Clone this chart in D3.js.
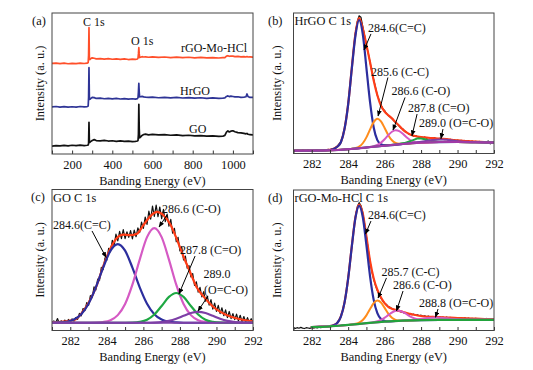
<!DOCTYPE html>
<html><head><meta charset="utf-8">
<script src="https://cdn.jsdelivr.net/npm/d3@7/dist/d3.min.js"></script>
<style>
html,body{margin:0;padding:0;background:#fff;}
svg text{font-family:"Liberation Serif","Times New Roman",serif;font-weight:normal;}
</style></head>
<body><div id="chart"></div>
<script>
// ================= DATA =================
// (a) survey spectra
const surveyE = [100,120,140,160,180,200,220,240,260,275,280,282,284,286,288,292,300,310,320,340,360,380,400,420,440,460,480,500,515,525,528,530,532,534,536,540,548,556,565,580,600,630,660,690,720,750,780,810,840,870,900,930,950,960,968,975,982,990,1000,1010,1025,1040,1055,1065,1070,1075,1085,1100];
const surveyGO = [5.6,6.0,5.7,6.1,5.8,6.2,5.9,6.3,6.0,6.2, 6.4,7.5,22.5,8.6,8.3,8.8,9.6,10.2,9.5,9.3, 9.6,9.2,9.4,9.0,9.3,8.9,9.1,8.8,9.0,9.2, 9.6,14,35.2,18,11.5,12.0,13.2,13.8,14.1,13.6, 13.9,13.5,13.7,13.3,13.5,13.1,13.3,12.9,13.1,12.7, 12.9,12.5,12.6,13.2,15.5,16.4,15.6,16.2,16.5,15.8, 15.2,15.0,14.6,14.3,14.6,14.0,13.8,13.5];
const surveyHrGO = [33.4,33.7,33.3,33.6,33.2,33.5,33.3,33.7,33.4,33.6, 34.0,40,61.2,39.5,38.8,39.2,40.2,40.0,39.4,39.6, 39.2,39.5,39.1,39.4,39.0,39.3,38.9,39.2,38.9,39.3, 40,44,50.1,44,40.5,40.6,40.9,40.5,40.3,40.1, 40.3,39.9,40.2,39.8,40.1,39.7,40.0,39.6,39.9,39.5, 39.8,39.5,39.6,39.8,40.8,41.2,40.7,41.0,40.8,40.5, 40.6,40.2,40.4,40.6,42.6,40.8,40.1,40.2];
const surveyRGO = [64.2,64.5,64.1,64.4,64.0,64.3,64.1,64.5,64.2,64.4, 64.8,70,89.6,67.4,67.0,67.5,68.2,67.9,67.5,67.7, 67.3,67.6,67.2,67.5,67.1,67.4,67.0,67.3,67.1,67.4, 68,71,75.4,71,68.4,68.6,69.0,68.8,68.9,68.6, 68.9,68.5,68.8,68.4,68.7,68.3,68.6,68.2,68.5,68.2, 68.4,68.1,68.3,68.4,69.4,69.7,69.3,69.5,69.4,69.1, 69.2,68.9,69.0,68.8,69.1,68.8,68.9,68.7];
const surveyNames = ["rGO-Mo-HCl","HrGO","GO"];
const surveyPeakNames = ["C 1s","O 1s"];
const surveyTicks = [100,200,300,400,500,600,700,800,900,1000,1100];
const surveyTickLabels = [200,400,600,800,1000];

// C 1s panels
const c1sTicks = [281,282,283,284,285,286,287,288,289,290,291,292];
const c1sTickLabels = [282,284,286,288,290,292];
const rawStart = 281, rawStep = 0.1;

// (b) HrGO C 1s  — [binding energy, intensity]
const hrgoRaw = [2.2,1.8,2.3,2.0,1.7,2.4,2.1,1.9,2.5,2.0,
 1.8,2.3,2.1,2.6,2.0,2.2,2.7,2.3,2.5,2.9,
 2.6,3.2,3.4,4.2,5.1,6.8,8.4,12.5,17.8,26,
 35.5,48,61.5,75,86,94,98,97,90.5,84,
 77,71.5,65,58,52.5,47,41.5,38,34.5,32,
 30.5,28.5,27,26,25,23.5,22,21,19.5,18,
 17.5,16,15.2,14,13.5,13,12.2,12.8,12,11.5,
 12.0,11.2,11.8,10.9,11.4,11.0,10.6,11.3,10.8,10.4,
 10.9,10.2,10.7,9.9,10.4,9.6,10.1,9.5,9.9,9.2,
 9.6,9.0,9.4,8.7,9.3,8.6,9.0,8.4,8.9,8.2,
 8.7,8.1,8.6,7.9,8.5,7.8,8.4,8.8,6.9,7.6,
 7.2];
const hrgoEnv = [[281,2.0],[282,2.1],[283,2.6],[283.2,3.3],[283.4,4.9],[283.6,8.1],[283.8,17.6],[284,35.3],[284.2,61.0],[284.4,85.5],[284.6,96.4],[284.8,89.0],[285,77.5],[285.2,65.0],[285.4,52.0],[285.6,41.5],[285.8,34.0],[286,29.8],[286.2,27.2],[286.4,25.0],[286.6,22.2],[286.8,19.8],[287,17.0],[287.2,15.0],[287.4,13.6],[287.6,12.6],[287.8,12.1],[288,11.7],[288.4,11.2],[288.8,10.8],[289.2,10.4],[289.6,9.9],[290,9.3],[290.5,8.8],[291,8.4],[291.5,8.1],[292,7.9]];
const hrgoCeC = [[281,2.0],[282,2.1],[283,2.5],[283.2,3.2],[283.4,4.8],[283.6,8.0],[283.8,17.5],[284,35],[284.2,60.5],[284.4,84],[284.6,95],[284.8,85],[285,61],[285.2,36.5],[285.4,18.5],[285.6,9.5],[285.8,6.6],[286,5.9],[286.4,6.0],[287,6.8],[288,7.7],[289,8.1],[290,8.2],[291,8.0],[292,7.8]];
const hrgoCC = [[281,2.0],[283,2.3],[284,3.0],[284.2,3.4],[284.4,3.85],[284.6,4.9],[284.8,7.3],[285,11.5],[285.2,17.2],[285.4,22.35],[285.6,24.7],[285.8,22.85],[286,18.2],[286.2,13.05],[286.4,9.4],[286.6,7.5],[286.8,6.9],[287,6.9],[287.5,7.3],[288,7.7],[289,8.1],[290,8.2],[291,8.0],[292,7.8]];
const hrgoCO = [[281,2.0],[283,2.3],[284,3.0],[285,4.3],[285.2,4.7],[285.4,5.25],[285.6,6.15],[285.8,7.75],[286,10.1],[286.2,13.05],[286.4,15.5],[286.6,16.6],[286.8,15.95],[287,14.0],[287.2,11.5],[287.4,9.6],[287.6,8.46],[287.8,7.95],[288,7.8],[289,8.1],[290,8.2],[291,8.0],[292,7.8]];
const hrgoCdO = [[281,2.0],[283,2.3],[284,3.0],[285,4.3],[286,5.6],[286.6,6.37],[286.8,6.75],[287,7.26],[287.2,7.92],[287.4,8.78],[287.6,9.72],[287.8,10.7],[288,10.62],[288.2,10.12],[288.4,9.48],[288.6,8.9],[288.8,8.51],[289,8.3],[289.2,8.19],[290,8.2],[291,8.0],[292,7.8]];
const hrgoOCO = [[281,2.0],[283,2.3],[284,3.0],[285,4.3],[286,5.6],[287,6.83],[287.4,7.32],[287.8,7.95],[288.2,8.75],[288.6,9.58],[289,10.0],[289.4,9.75],[289.8,9.13],[290.2,8.6],[290.6,8.27],[291,8.03],[292,7.8]];
const hrgoBg = [[281,2.0],[282,2.1],[283,2.3],[283.6,2.6],[284,3.0],[284.5,3.6],[285,4.3],[285.5,5.0],[286,5.6],[286.5,6.2],[287,6.8],[287.5,7.3],[288,7.7],[289,8.1],[290,8.2],[291,8.0],[292,7.8]];
const hrgoLabels = ["284.6(C=C)","285.6 (C-C)","286.6 (C-O)","287.8 (C=O)","289.0 (O=C-O)"];

// (c) GO C 1s
const goRaw = [5.2,6.8,5.5,8.5,5.0,6.9,5.6,7.4,5.9,7.8,
 6.1,8.2,6.6,9.2,7.9,12.1,10.4,15.6,14.1,19.8,
 17.8,24.7,23.4,30.9,28.8,36.5,35.6,44.8,43.2,51.6,
 49.8,58.3,55.8,64.0,60.2,68.3,63.6,70.3,65.1,71.6,
 65.2,70.0,66.0,70.8,64.9,71.2,66.5,72.8,69.5,76.8,
 72.4,80.5,75.3,84.6,79.0,88.2,81.0,89.0,80.8,87.6,
 79.4,85.9,77.2,82.6,74.0,78.8,69.1,72.5,63.0,66.1,
 56.5,59.3,50.0,52.8,44.2,46.0,38.1,40.4,32.0,34.5,
 27.2,30.6,23.9,27.5,20.8,24.3,18.0,21.9,15.2,19.4,
 13.6,17.8,12.0,16.1,10.5,14.6,9.2,13.5,8.4,12.0,
 7.7,11.6,6.9,10.8,6.2,9.9,5.8,9.1,5.6,8.4,
 5.9];
const goEnv = [[281,6.0],[281.5,6.2],[282,7.0],[282.3,8.0],[282.6,11.9],[283.0,19.6],[283.45,32.0],[283.8,45.5],[284.2,58.3],[284.55,65.6],[284.9,68.0],[285.3,67.6],[285.65,68.6],[286.0,74.7],[286.4,81.3],[286.75,84.1],[287.1,81.7],[287.5,74.7],[287.85,64.1],[288.2,52.3],[288.55,41.7],[288.9,31.1],[289.3,24.0],[289.8,17.0],[290.55,11.0],[291.3,8.0],[292,6.4]];
const goCeC = [[281,5.5],[281.4,5.7],[281.8,6.2],[282.2,7.8],[282.6,11.6],[283.0,19.0],[283.4,30.6],[283.8,44.6],[284.2,56.6],[284.6,61.3],[285.0,56.6],[285.4,44.6],[285.8,30.6],[286.2,19.0],[286.6,11.6],[287.0,7.8],[287.4,6.2],[287.8,5.7],[288.2,5.5],[292,5.5]];
const goCO = [[281,5.5],[283,5.5],[283.4,5.6],[283.8,6.0],[284.2,7.3],[284.6,10.9],[285,18.8],[285.4,32.5],[285.8,50.3],[286.2,66.2],[286.6,72.6],[287,66.2],[287.4,50.3],[287.8,32.5],[288.2,18.8],[288.6,10.9],[289,7.3],[289.4,6.0],[289.8,5.6],[290.2,5.5],[292,5.5]];
const goCdO = [[281,5.5],[285,5.5],[285.4,5.6],[285.8,6.1],[286.2,7.6],[286.6,11.3],[287,17.4],[287.4,23.8],[287.8,26.6],[288.2,23.8],[288.6,17.4],[289,11.3],[289.4,7.6],[289.8,6.1],[290.2,5.6],[290.6,5.5],[292,5.5]];
const goOCO = [[281,5.5],[286.2,5.5],[286.6,5.64],[287,6.0],[287.4,6.8],[287.8,8.3],[288.2,10.4],[288.6,12.4],[289,13.2],[289.4,12.4],[289.8,10.4],[290.2,8.3],[290.6,6.8],[291,6.0],[291.4,5.64],[291.8,5.5],[292,5.5]];
const goBg = [[281,5.5],[292,5.5]];
const goLabels = ["284.6(C=C)","286.6 (C-O)","287.8 (C=O)","289.0","(O=C-O)"];

// (d) rGO-Mo-HCl C 1s
const rgoRaw = [1.9,1.5,2.0,1.6,2.2,1.7,1.4,2.0,1.8,1.5,
 2.1,1.7,2.3,1.9,2.4,2.0,2.6,2.2,2.5,2.8,
 2.9,3.3,3.6,4.4,5.4,7.2,10.2,14.5,20,28,
 37.5,48.5,60,71.5,81,88,91,89,84,76,
 67,58,49,42,36.5,32,28.5,25.5,23,21,
 19.5,18.5,17,16.5,15.5,15.0,14.6,14.0,13.8,13.2,
 12.9,12.4,12.6,11.8,12.0,11.3,11.6,10.8,11.2,10.5,
 10.9,10.1,10.5,9.8,10.3,9.6,10.0,9.4,10.2,9.5,
 9.9,9.2,9.6,8.9,9.5,8.8,9.3,8.7,9.2,8.6,
 9.1,8.5,8.9,8.4,9.0,8.3,8.8,8.2,8.7,8.1,
 8.6,8.0,8.5,7.9,8.4,7.8,8.6,7.7,8.3,7.9,
 8.0];
const rgoEnv = [[282,2.4],[283,3.1],[283.2,3.8],[283.4,5.4],[283.6,10.0],[283.8,20.0],[284,37.3],[284.2,60.2],[284.4,80.8],[284.6,89.6],[284.8,83.3],[285,67.0],[285.2,49.5],[285.4,37.0],[285.6,29.0],[285.8,23.5],[286,19.5],[286.2,16.8],[286.4,15.5],[286.6,14.7],[286.8,14.0],[287,13.2],[287.2,12.5],[287.4,11.8],[287.6,11.2],[287.8,10.7],[288,10.3],[288.4,9.8],[288.8,9.6],[289.2,9.4],[289.6,9.1],[290,8.9],[290.5,8.6],[291,8.4],[291.5,8.2],[292,8.1]];
const rgoCeC = [[282,2.4],[283,3.05],[283.2,3.7],[283.4,5.35],[283.6,9.9],[283.8,19.85],[284,37.1],[284.2,59.85],[284.4,80.3],[284.6,88.7],[284.8,80.75],[285,60.8],[285.2,38.55],[285.4,21.8],[285.6,12.35],[285.8,8.15],[286,6.8],[286.2,6.45],[286.6,6.75],[287,7.0],[288,7.45],[289,7.6],[292,7.6]];
const rgoCC = [[282,2.4],[284,4.0],[284.4,4.76],[284.6,5.6],[284.8,7.45],[285,10.8],[285.2,15.25],[285.4,19.45],[285.6,21.35],[285.8,19.9],[286,16.1],[286.2,12.05],[286.4,9.1],[286.6,7.6],[286.8,7.06],[287,7.0],[288,7.45],[289,7.6],[292,7.6]];
const rgoCO = [[282,2.4],[284,4.0],[285,5.2],[285.3,5.75],[285.5,6.22],[285.7,7.0],[285.9,8.3],[286.1,10.0],[286.3,11.95],[286.5,13.55],[286.7,14.25],[286.9,13.75],[287.1,12.5],[287.3,10.8],[287.5,9.35],[287.7,8.35],[287.9,7.82],[288.1,7.62],[288.3,7.5],[289,7.6],[292,7.6]];
const rgoOCO = [[282,2.4],[284,4.0],[286,6.3],[287,7.0],[287.2,7.22],[287.6,7.67],[288,8.28],[288.4,8.88],[288.8,9.17],[289.2,8.96],[289.6,8.43],[290,7.97],[290.4,7.72],[291,7.6],[292,7.6]];
const rgoBg = [[282,2.4],[283,3.0],[283.5,3.4],[284,4.0],[284.5,4.6],[285,5.2],[285.5,5.8],[286,6.3],[286.5,6.7],[287,7.0],[287.5,7.25],[288,7.45],[289,7.6],[290,7.6],[291,7.6],[292,7.6]];
const rgoLabels = ["284.6(C=C)","285.7 (C-C)","286.6 (C-O)","288.8 (O=C-O)"];

const panelTitles = ["HrGO C 1s","GO C 1s","rGO-Mo-HCl C 1s"];
const xTitle = "Banding Energy (eV)";
const yTitle = "Intensity (a. u.)";

// ================= DRAWING =================
const FONT = '"Liberation Serif","Times New Roman",serif';
const FS = 12.4, FSA = 12;
const COL = {raw:"#111", env:"#ff3d17", ceC:"#2c2e9e", cc:"#ff8c1c", co:"#d55ac4",
             cdo:"#1ea843", oco:"#7d3fa6", bgB:"#a03aa6", bgD:"#22a33c",
             sRed:"#ff4f2a", sBlue:"#2e3496", sBlack:"#111"};

const svg = d3.select("#chart").append("svg").attr("width",533).attr("height",370).style("display","block");
const defs = svg.append("defs");
defs.append("marker").attr("id","arrow").attr("viewBox","0 0 10 8").attr("refX",9).attr("refY",4)
  .attr("markerWidth",6).attr("markerHeight",5).attr("orient","auto").attr("markerUnits","userSpaceOnUse")
  .append("path").attr("d","M0,0L10,4L0,8Z").attr("fill","#000");

function makePanel(o){
  const x = d3.scaleLinear().domain(o.xDomain).range([o.left,o.right]);
  const y = d3.scaleLinear().domain([0,100]).range([o.bottom,o.top]);
  const g = svg.append("g");
  defs.append("clipPath").attr("id","clip-"+o.id).append("rect")
     .attr("x",o.left).attr("y",o.top).attr("width",o.right-o.left).attr("height",o.bottom-o.top);
  const plot = g.append("g").attr("clip-path",`url(#clip-${o.id})`);
  const axis = d3.axisBottom(x).tickValues(o.ticks).tickSizeInner(-3.5).tickSizeOuter(0).tickPadding(6)
     .tickFormat(d => o.labels.includes(d) ? String(d) : "");
  const ag = g.append("g").attr("transform",`translate(0,${o.bottom})`).call(axis);
  ag.select(".domain").remove();
  ag.selectAll("line").attr("stroke","#333");
  ag.selectAll("text").attr("font-family",FONT).attr("font-size",FS).attr("fill","#111");
  g.append("rect").attr("x",o.left).attr("y",o.top).attr("width",o.right-o.left).attr("height",o.bottom-o.top)
     .attr("fill","none").attr("stroke","#444").attr("stroke-width",1);
  g.append("text").attr("x",(o.left+o.right)/2).attr("y",o.bottom+30.5).attr("text-anchor","middle")
     .attr("font-size",FS).attr("fill","#111").text(xTitle);
  g.append("text").attr("transform",`translate(${o.yTitleX},${(o.top+o.bottom)/2}) rotate(-90)`)
     .attr("text-anchor","middle").attr("font-size",FS).attr("fill","#111").text(yTitle);
  g.append("text").attr("x",o.tagX).attr("y",o.top+11.5).attr("font-size",FS).attr("fill","#111").text(o.tag);
  if (o.title) g.append("text").attr("x",o.left+1).attr("y",o.top+12).attr("font-size",FS).attr("fill","#111").text(o.title);
  return {x,y,g,plot};
}

function drawLine(P, data, color, width, curve){
  const line = d3.line().x(d=>P.x(d[0])).y(d=>P.y(d[1])).curve(curve || d3.curveMonotoneX);
  P.plot.append("path").datum(data).attr("d",line).attr("fill","none")
    .attr("stroke",color).attr("stroke-width",width).attr("stroke-linejoin","round").attr("stroke-linecap","round");
}
function rawPairs(arr){ return arr.map((v,i)=>[rawStart + i*rawStep, v]); }
function annotate(P, label, tx, ty, a){
  P.g.append("text").attr("x",P.x(tx)).attr("y",P.y(ty)).attr("font-size",FSA).attr("fill","#111").text(label);
  if (a) P.g.append("line").attr("x1",P.x(a[0])).attr("y1",P.y(a[1])).attr("x2",P.x(a[2])).attr("y2",P.y(a[3]))
     .attr("stroke","#000").attr("stroke-width",1).attr("marker-end","url(#arrow)");
}

// ---- (a) survey ----
const A = makePanel({id:"a", left:52, right:253, top:13, bottom:154, xDomain:[100,1100],
  ticks:surveyTicks, labels:surveyTickLabels, yTitleX:43.5, tagX:32, tag:"(a)"});
[[surveyGO,COL.sBlack],[surveyHrGO,COL.sBlue],[surveyRGO,COL.sRed]].forEach(([arr,c])=>{
  drawLine(A, surveyE.map((e,i)=>[e,arr[i]]), c, 1.7, d3.curveLinear);
});
annotate(A, surveyPeakNames[0], 254, 90.8);
annotate(A, surveyPeakNames[1], 493, 77.3);
annotate(A, surveyNames[0], 742, 72.6);
annotate(A, surveyNames[1], 737, 41.6);
annotate(A, surveyNames[2], 782, 14.7);

// ---- (b) HrGO C 1s ----
const B = makePanel({id:"b", left:293.5, right:494, top:13, bottom:153.5, xDomain:[281,292],
  ticks:c1sTicks, labels:c1sTickLabels, yTitleX:280.5, tagX:268, tag:"(b)", title:panelTitles[0]});
drawLine(B, rawPairs(hrgoRaw), COL.raw, 1.2, d3.curveLinear);
drawLine(B, hrgoEnv, COL.env, 2.2);
drawLine(B, hrgoCeC, COL.ceC, 2.2);
drawLine(B, hrgoCC, COL.cc, 2);
drawLine(B, hrgoCO, COL.co, 2);
drawLine(B, hrgoCdO, COL.cdo, 2);
drawLine(B, hrgoOCO, COL.oco, 2);
drawLine(B, hrgoBg, COL.bgB, 2);
annotate(B, hrgoLabels[0], 285.09, 86.5, [285.25,85.1,284.87,73.7]);
annotate(B, hrgoLabels[1], 285.25, 55.5, [286.18,54.1,285.64,26.7]);
annotate(B, hrgoLabels[2], 286.38, 41.3, [287.12,39.9,286.46,16.7]);
annotate(B, hrgoLabels[3], 287.28, 29.5, [287.78,28.1,287.5,12.6]);
annotate(B, hrgoLabels[4], 287.89, 18.9, [289.2,17.4,289.09,10.6]);

// ---- (c) GO C 1s ----
const C = makePanel({id:"c", left:52, right:253, top:189.5, bottom:330.5, xDomain:[281,292],
  ticks:c1sTicks, labels:c1sTickLabels, yTitleX:43.5, tagX:31, tag:"(c)", title:panelTitles[1]});
drawLine(C, rawPairs(goRaw), COL.raw, 1.2, d3.curveLinear);
drawLine(C, goEnv, COL.env, 2.2);
drawLine(C, goCeC, COL.ceC, 2.2);
drawLine(C, goCO, COL.co, 2.2);
drawLine(C, goCdO, COL.cdo, 2.2);
drawLine(C, goOCO, COL.oco, 2.2);
drawLine(C, goBg, COL.oco, 2);
annotate(C, goLabels[0], 281.05, 72.0, [283.19,70.6,283.96,51.8]);
annotate(C, goLabels[1], 287.02, 83.3, [287.29,81.9,286.86,73.4]);
annotate(C, goLabels[2], 288.0, 54.3, [288.83,52.8,287.95,26.0]);
annotate(C, goLabels[3], 289.29, 37.2);
annotate(C, goLabels[4], 289.32, 25.9, [289.54,24.5,288.99,13.8]);

// ---- (d) rGO-Mo-HCl C 1s ----
const D = makePanel({id:"d", left:293.5, right:494, top:190, bottom:330.5, xDomain:[281,292],
  ticks:c1sTicks, labels:c1sTickLabels, yTitleX:280.5, tagX:268, tag:"(d)", title:panelTitles[2]});
drawLine(D, rawPairs(rgoRaw), COL.raw, 1.2, d3.curveLinear);
drawLine(D, rgoEnv, COL.env, 2.2);
drawLine(D, rgoCeC, COL.ceC, 2.2);
drawLine(D, rgoCC, COL.cc, 2);
drawLine(D, rgoCO, COL.co, 2);
drawLine(D, rgoOCO, COL.co, 2);
drawLine(D, rgoBg, COL.bgD, 2.2);
annotate(D, rgoLabels[0], 285.09, 79.4, [285.25,77.9,284.95,68.7]);
annotate(D, rgoLabels[1], 285.83, 38.8, [286.1,37.4,285.64,23.1]);
annotate(D, rgoLabels[2], 286.46, 29.5, [287.01,28.1,286.65,14.0]);
annotate(D, rgoLabels[3], 287.89, 16.7, [288.93,15.3,288.79,9.4]);
</script>
</body></html>
